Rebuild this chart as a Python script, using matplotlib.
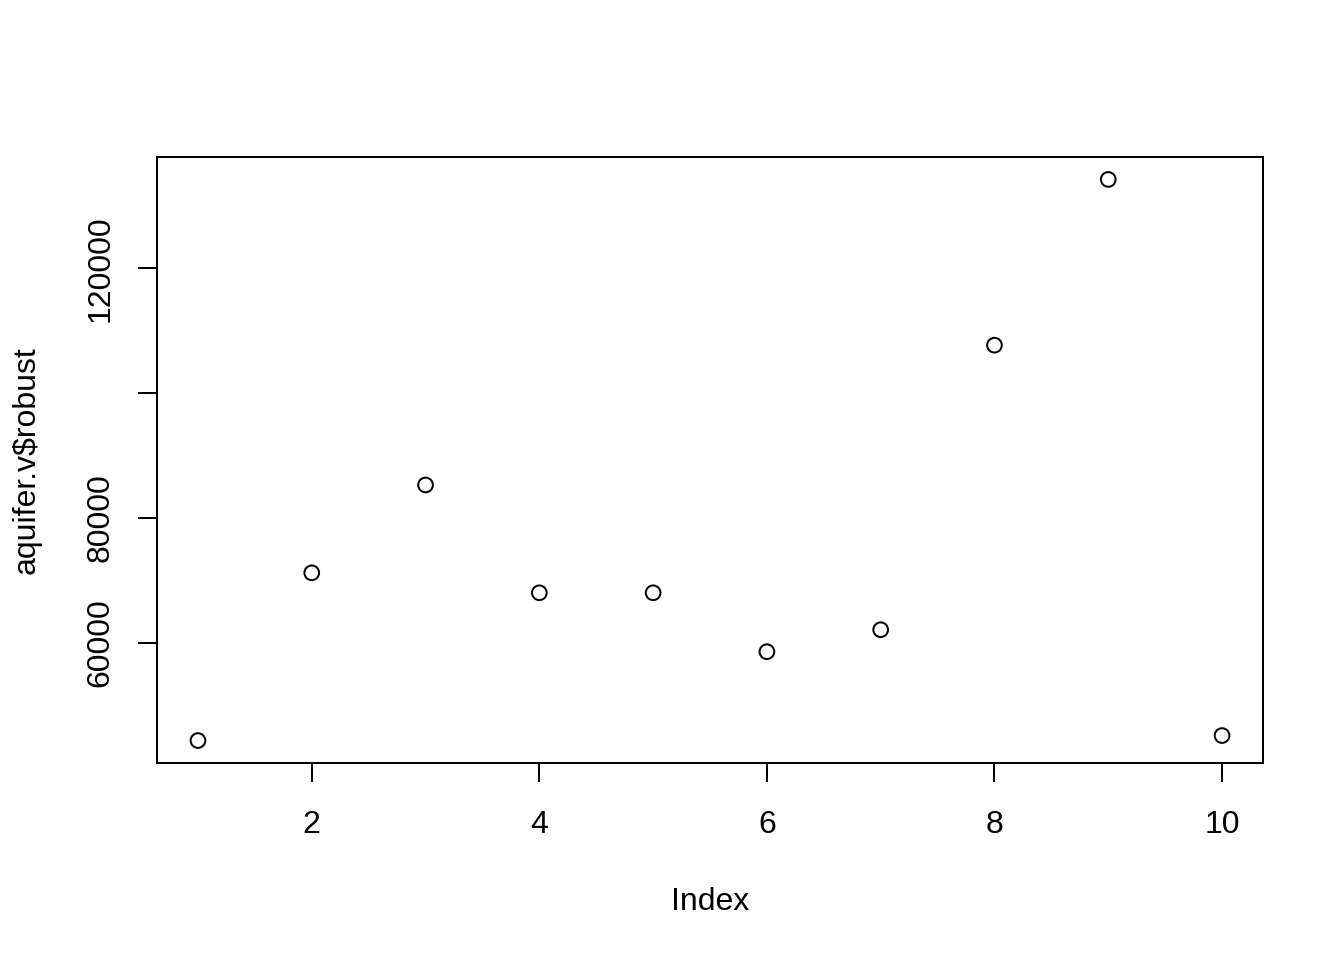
import matplotlib
matplotlib.use('Agg')
import matplotlib.pyplot as plt

plt.rcParams['font.family'] = ['Liberation Sans', 'DejaVu Sans']

index = [1, 2, 3, 4, 5, 6, 7, 8, 9, 10]
robust = [44320, 71200, 85280, 68000, 68000, 58560, 62080, 107680, 134240, 45120]

fig = plt.figure(figsize=(7, 5), dpi=192)
ax = fig.add_axes([157 / 1344, 1 - 763 / 960, (1263 - 157) / 1344, (763 - 157) / 960])

ax.scatter(index, robust, s=5.5 ** 2, facecolors='none', edgecolors='black', linewidths=0.75)

ax.set_xlim(0.64, 10.36)
ax.set_ylim(40723, 137837)
ax.set_xticks([2, 4, 6, 8, 10])
ax.set_yticks([60000, 80000, 100000, 120000])
ax.set_yticklabels(['60000', '80000', '', '120000'], rotation=90, va='center')
ax.tick_params(direction='out', length=7.2, width=0.75, labelsize=12, color='black')
ax.tick_params(axis='x', pad=10.5)
ax.tick_params(axis='y', pad=8.3)
for sp in ax.spines.values():
    sp.set_linewidth(0.75)

ax.set_xlabel('Index', fontsize=12, labelpad=17.7)
ax.set_ylabel('aquifer.v$robust', fontsize=12, labelpad=16.6)

fig.savefig('out.png', dpi=192)
